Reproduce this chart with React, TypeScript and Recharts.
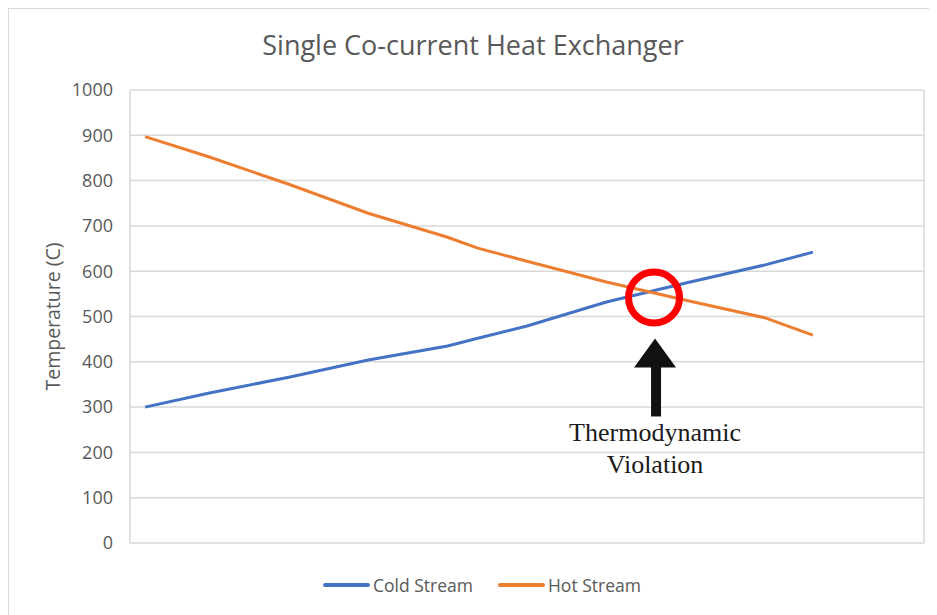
import React from 'react';
import { CartesianGrid, Legend, Line, LineChart, ReferenceDot, XAxis, YAxis } from 'recharts';

// position along the exchanger (no labels shown on the x axis)
const positions = [0.19, 1, 2, 3, 4, 4.38, 5, 6, 7, 8, 8.6];
const coldStream = [300, 331, 366, 404, 435, 452, 479, 532, 574, 614, 642];
const hotStream = [897, 852, 792, 728, 675, 651, 622, 576, 536, 497, 459];
const yTicks = [0, 100, 200, 300, 400, 500, 600, 700, 800, 900, 1000];
const xTicks = [0, 1, 2, 3, 4, 5, 6, 7, 8, 9, 10];
const violation = { x: 6.6, y: 542 };

const data = positions.map((x, i) => ({ x, cold: coldStream[i], hot: hotStream[i] }));

const font = '"Open Sans", sans-serif';
const grey = '#595959';

function ViolationMark(props: any) {
  const { cx, cy } = props;
  if (cx == null || cy == null) return null;
  return (
    <g>
      <circle cx={cx} cy={cy} r={25.5} fill="none" stroke="#ff0000" strokeWidth={7} />
      <polygon points={`${cx + 1},${cy + 41} ${cx - 20},${cy + 70} ${cx + 22},${cy + 70}`} fill="#111" />
      <rect x={cx - 3} y={cy + 69} width={10} height={50} fill="#111" />
      <text
        x={cx + 1}
        textAnchor="middle"
        fontFamily='"Liberation Serif", "Times New Roman", serif'
        fontSize={26}
        fill="#1a1a1a"
      >
        <tspan x={cx + 1} y={cy + 144}>Thermodynamic</tspan>
        <tspan x={cx + 1} y={cy + 176}>Violation</tspan>
      </text>
    </g>
  );
}

function LegendContent() {
  const item = (color: string, label: string, ml: number) => (
    <div style={{ display: 'flex', alignItems: 'center', marginLeft: ml }}>
      <span style={{ display: 'inline-block', width: 47, height: 4, borderRadius: 2, background: color }} />
      <span style={{ marginLeft: 3, color: grey, fontSize: 17.5, fontFamily: font }}>{label}</span>
    </div>
  );
  return (
    <div style={{ display: 'flex', height: 20, alignItems: 'center' }}>
      {item('#4472C4', 'Cold Stream', 314)}
      {item('#ED7D31', 'Hot Stream', 25)}
    </div>
  );
}

export default function App() {
  return (
    <div
      style={{
        position: 'relative',
        width: 929,
        height: 607,
        borderTop: '1px solid #d9d9d9',
        borderLeft: '1px solid #d9d9d9',
        boxSizing: 'border-box',
        background: '#fff',
      }}
    >
      <div
        style={{
          position: 'absolute',
          top: 20,
          left: 0,
          width: 928,
          textAlign: 'center',
          lineHeight: '32px',
          fontSize: 27,
          fontFamily: font,
          color: grey,
        }}
      >
        Single Co-current Heat Exchanger
      </div>
      <LineChart width={928} height={606} data={data} margin={{ top: 81, right: 13, left: 0, bottom: 52 }}>
        <CartesianGrid stroke="#d9d9d9" strokeWidth={1.5} />
        <XAxis
          dataKey="x"
          type="number"
          domain={[0, 10]}
          ticks={xTicks}
          tick={false}
          tickLine={false}
          height={0}
          axisLine={{ stroke: '#d9d9d9', strokeWidth: 1.5 }}
        />
        <YAxis
          type="number"
          domain={[0, 1000]}
          ticks={yTicks}
          width={121}
          axisLine={false}
          tickLine={false}
          tickSize={0}
          tickMargin={17}
          tick={{ fill: grey, fontSize: 18, fontFamily: font }}
          label={{
            value: 'Temperature (C)',
            angle: -90,
            position: 'center',
            dx: -16,
            fill: grey,
            fontSize: 19.5,
            fontFamily: font,
          }}
        />
        <Line dataKey="cold" name="Cold Stream" type="linear" stroke="#4472C4" strokeWidth={3} dot={false} isAnimationActive={false} />
        <Line dataKey="hot" name="Hot Stream" type="linear" stroke="#ED7D31" strokeWidth={3} dot={false} isAnimationActive={false} />
        <ReferenceDot x={violation.x} y={violation.y} r={25} shape={ViolationMark} />
        <Legend
          verticalAlign="bottom"
          content={LegendContent}
          wrapperStyle={{ top: 566, bottom: 'auto', left: 0, width: 928 }}
        />
      </LineChart>
    </div>
  );
}
